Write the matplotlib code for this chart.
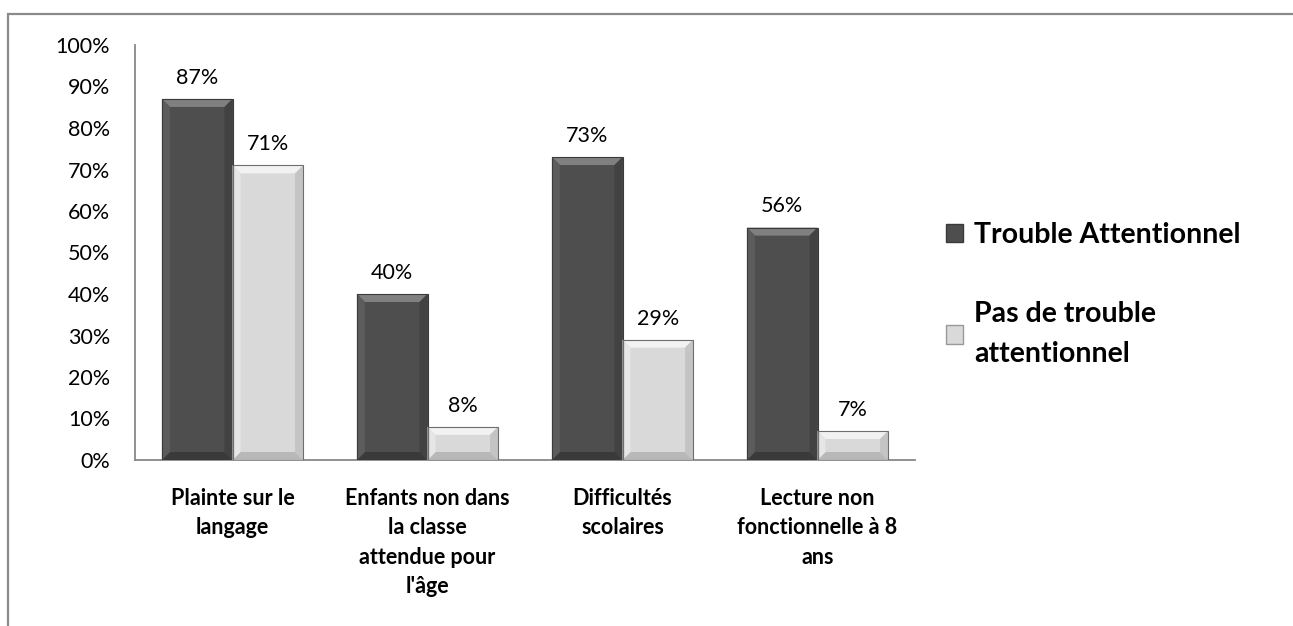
import matplotlib
matplotlib.use("Agg")
import matplotlib.pyplot as plt
from matplotlib.patches import Polygon, Rectangle, Patch
import numpy as np

categories = ["Plainte sur le\nlangage", "Enfants non dans\nla classe\nattendue pour\nl'âge",
              "Difficultés\nscolaires", "Lecture non\nfonctionnelle à 8\nans"]
trouble = [87, 40, 73, 56]
pas_trouble = [71, 8, 29, 7]
series_names = ["Trouble Attentionnel", "Pas de trouble\nattentionnel"]
yticks = [0, 10, 20, 30, 40, 50, 60, 70, 80, 90, 100]
ytick_labels = [f"{v}%" for v in yticks]

plt.rcParams['font.family'] = ['Lato', 'DejaVu Sans']

W, H = 1293, 626
fig = plt.figure(figsize=(W / 100, H / 100), dpi=100)
ax = fig.add_axes([135 / W, 1 - 460 / H, 780 / W, 415 / H])

x = np.arange(len(categories))
bw = 0.362

styles = [
    dict(face="#4e4e4e", top="#808080", bottom="#3a3a3a", left="#5c5c5c", right="#424242", edge="#3a3a3a"),
    dict(face="#d9d9d9", top="#f2f2f2", bottom="#b8b8b8", left="#e6e6e6", right="#c4c4c4", edge="#6e6e6e"),
]

# bevel sizes (data units) for ~8px
bx = 8 / 195.0
by = 8 / 415.0 * 100

def draw_bar(xc, w, h, st):
    x0, x1 = xc - w / 2, xc + w / 2
    ax.add_patch(Rectangle((x0, 0), w, h, facecolor=st["face"], edgecolor="none", zorder=2))
    b_y = min(by, h / 2)
    ax.add_patch(Polygon([(x0, h), (x1, h), (x1 - bx, h - b_y), (x0 + bx, h - b_y)],
                         closed=True, facecolor=st["top"], edgecolor="none", zorder=3))
    ax.add_patch(Polygon([(x0, 0), (x1, 0), (x1 - bx, b_y), (x0 + bx, b_y)],
                         closed=True, facecolor=st["bottom"], edgecolor="none", zorder=3))
    ax.add_patch(Polygon([(x0, 0), (x0 + bx, b_y), (x0 + bx, h - b_y), (x0, h)],
                         closed=True, facecolor=st["left"], edgecolor="none", zorder=3))
    ax.add_patch(Polygon([(x1, 0), (x1 - bx, b_y), (x1 - bx, h - b_y), (x1, h)],
                         closed=True, facecolor=st["right"], edgecolor="none", zorder=3))
    ax.add_patch(Rectangle((x0, 0), w, h, facecolor="none", edgecolor=st["edge"], linewidth=0.8, zorder=4))

for i, vals in enumerate([trouble, pas_trouble]):
    offs = (i - 0.5) * bw
    for xi, v in zip(x, vals):
        draw_bar(xi + offs, bw, v, styles[i])
        ax.annotate(f"{v}%", (xi + offs, v), xytext=(0, 8), textcoords="offset points",
                    ha="center", va="bottom", fontsize=15.5, color="#000000")

ax.set_xlim(-0.5, len(categories) - 0.5)
ax.set_ylim(0, 100)
ax.set_yticks(yticks)
ax.set_yticklabels(ytick_labels, fontsize=15.5)
ax.set_xticks(x)
ax.set_xticklabels(categories, fontsize=15.5, fontweight="bold", linespacing=1.5, va="top")
ax.tick_params(axis="both", length=0)
ax.tick_params(axis="x", pad=20)
ax.tick_params(axis="y", pad=18)
for s in ["top", "right"]:
    ax.spines[s].set_visible(False)
for s in ["left", "bottom"]:
    ax.spines[s].set_color("#888888")
    ax.spines[s].set_linewidth(1.3)

# legend
handles = [Patch(facecolor=styles[0]["face"], edgecolor=styles[0]["edge"]),
           Patch(facecolor=styles[1]["face"], edgecolor="#999999")]
leg = fig.legend(handles, series_names, loc="upper left", bbox_to_anchor=(946 / W, 1 - 222 / H),
                 frameon=False, prop=dict(size=20.5, weight="bold"), handlelength=0.6, handleheight=0.6,
                 handletextpad=0.4, labelspacing=1.85, borderpad=0, borderaxespad=0)
for t in leg.get_texts():
    t.set_linespacing(1.7)

# outer border
fig.add_artist(Rectangle((7.5 / W, -0.1), 1.2, 1 - 13.5 / H + 0.1, transform=fig.transFigure,
                         facecolor="none", edgecolor="#8a8a8a", linewidth=1.6))

fig.savefig("out.png", dpi=100)
